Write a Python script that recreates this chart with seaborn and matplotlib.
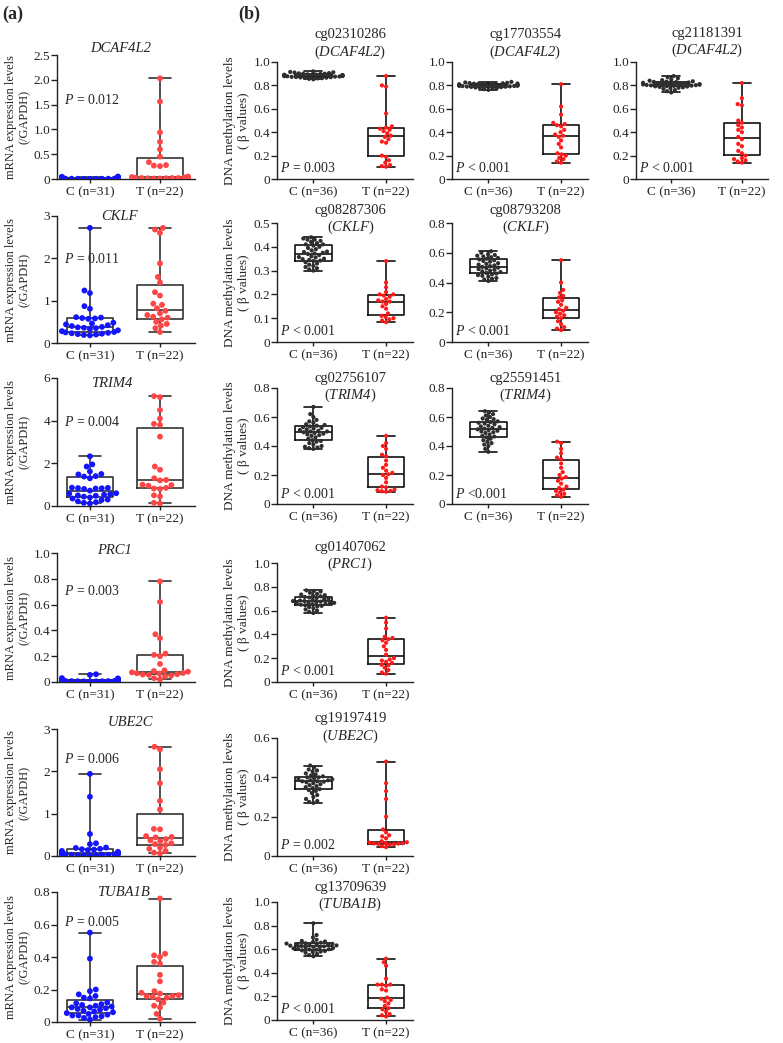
import warnings
import matplotlib
matplotlib.use("Agg")
import matplotlib.pyplot as plt
import pandas as pd
import seaborn as sns

warnings.filterwarnings("ignore")

# ---------------- (a) mRNA expression levels (/GAPDH) ----------------
dcaf4l2_c = [0.05, 0.045, 0.04, 0.035, 0.03, 0.03, 0.025, 0.025, 0.02, 0.02, 0.02, 0.018, 0.016,
             0.015, 0.014, 0.013, 0.012, 0.011, 0.01, 0.01, 0.009, 0.008, 0.008, 0.007, 0.006,
             0.006, 0.005, 0.005, 0.004, 0.003, 0.002]
dcaf4l2_t = [2.03, 1.56, 0.94, 0.75, 0.60, 0.45, 0.34, 0.28, 0.27, 0.26, 0.05, 0.04, 0.03, 0.03,
             0.025, 0.02, 0.02, 0.02, 0.015, 0.015, 0.01, 0.01]
cklf_c = [2.72, 1.24, 1.18, 0.87, 0.81, 0.61, 0.60, 0.59, 0.58, 0.57, 0.48, 0.46, 0.44, 0.42, 0.40,
          0.38, 0.37, 0.36, 0.35, 0.33, 0.30, 0.28, 0.26, 0.25, 0.24, 0.23, 0.22, 0.21, 0.20, 0.19, 0.18]
cklf_t = [2.72, 2.68, 2.60, 1.88, 1.56, 1.43, 1.20, 1.12, 0.93, 0.90, 0.82, 0.76, 0.70, 0.66, 0.62,
          0.60, 0.56, 0.50, 0.45, 0.41, 0.35, 0.26]
trim4_c = [2.33, 1.95, 1.85, 1.62, 1.50, 1.48, 1.40, 1.38, 1.30, 0.86, 0.85, 0.84, 0.83, 0.82, 0.80,
           0.72, 0.60, 0.58, 0.55, 0.53, 0.50, 0.48, 0.44, 0.40, 0.35, 0.30, 0.28, 0.22, 0.18, 0.15, 0.12]
trim4_t = [5.15, 5.10, 4.50, 4.10, 3.85, 3.80, 3.25, 1.85, 1.70, 1.30, 1.22, 1.20, 1.00, 0.98, 0.95,
           0.85, 0.82, 0.80, 0.50, 0.45, 0.15, 0.12]
prc1_c = [0.06, 0.055, 0.03, 0.028, 0.025, 0.022, 0.02, 0.02, 0.018, 0.017, 0.016, 0.015, 0.014,
          0.013, 0.012, 0.012, 0.011, 0.01, 0.01, 0.01, 0.009, 0.009, 0.008, 0.008, 0.007, 0.007,
          0.006, 0.006, 0.005, 0.005, 0.004]
prc1_t = [0.78, 0.62, 0.37, 0.34, 0.22, 0.21, 0.20, 0.14, 0.09, 0.085, 0.08, 0.075, 0.07, 0.068,
          0.065, 0.06, 0.058, 0.055, 0.05, 0.045, 0.03, 0.02]
ube2c_c = [1.94, 1.40, 0.52, 0.30, 0.28, 0.20, 0.19, 0.17, 0.16, 0.15, 0.14, 0.12, 0.10, 0.09, 0.08,
           0.07, 0.06, 0.06, 0.05, 0.05, 0.05, 0.04, 0.04, 0.04, 0.03, 0.03, 0.03, 0.02, 0.02, 0.02, 0.01]
ube2c_t = [2.58, 2.52, 2.05, 1.72, 1.30, 1.10, 0.64, 0.63, 0.47, 0.45, 0.44, 0.40, 0.37, 0.35, 0.30,
           0.28, 0.26, 0.20, 0.17, 0.12, 0.08, 0.06]
tuba1b_c = [0.55, 0.39, 0.20, 0.19, 0.17, 0.16, 0.15, 0.145, 0.12, 0.115, 0.11, 0.105, 0.10, 0.095,
            0.09, 0.09, 0.085, 0.08, 0.075, 0.07, 0.065, 0.06, 0.055, 0.05, 0.045, 0.04, 0.04,
            0.035, 0.03, 0.025, 0.015]
tuba1b_t = [0.76, 0.42, 0.41, 0.40, 0.37, 0.36, 0.29, 0.25, 0.19, 0.18, 0.175, 0.165, 0.16, 0.16,
            0.155, 0.15, 0.14, 0.12, 0.10, 0.09, 0.05, 0.02]

# ---------------- (b) DNA methylation levels (beta values) ----------------
cg02310286_c = [0.92, 0.915, 0.912, 0.91, 0.905, 0.903, 0.90, 0.90, 0.898, 0.895, 0.893, 0.89, 0.89,
                0.888, 0.887, 0.886, 0.885, 0.885, 0.884, 0.883, 0.882, 0.88, 0.879, 0.878, 0.876,
                0.875, 0.873, 0.872, 0.87, 0.868, 0.866, 0.864, 0.862, 0.86, 0.856, 0.852]
cg02310286_t = [0.88, 0.80, 0.79, 0.56, 0.45, 0.44, 0.43, 0.42, 0.41, 0.39, 0.37, 0.36, 0.34, 0.32,
                0.31, 0.20, 0.19, 0.16, 0.14, 0.12, 0.11, 0.105]
cg17703554_c = [0.83, 0.825, 0.822, 0.82, 0.818, 0.816, 0.815, 0.813, 0.812, 0.81, 0.808, 0.806,
                0.805, 0.804, 0.803, 0.802, 0.801, 0.80, 0.80, 0.799, 0.798, 0.797, 0.796, 0.795,
                0.794, 0.792, 0.79, 0.789, 0.787, 0.785, 0.782, 0.78, 0.777, 0.773, 0.768, 0.762]
cg17703554_t = [0.81, 0.62, 0.55, 0.48, 0.47, 0.46, 0.45, 0.42, 0.40, 0.38, 0.37, 0.36, 0.33, 0.30,
                0.27, 0.22, 0.21, 0.20, 0.18, 0.17, 0.15, 0.14]
cg21181391_c = [0.88, 0.87, 0.86, 0.85, 0.845, 0.84, 0.835, 0.832, 0.83, 0.828, 0.825, 0.822, 0.82,
                0.818, 0.815, 0.813, 0.811, 0.81, 0.808, 0.806, 0.804, 0.802, 0.80, 0.798, 0.796,
                0.794, 0.792, 0.79, 0.787, 0.783, 0.78, 0.775, 0.77, 0.76, 0.75, 0.74]
cg21181391_t = [0.82, 0.69, 0.64, 0.63, 0.50, 0.48, 0.46, 0.44, 0.42, 0.40, 0.36, 0.34, 0.30, 0.28,
                0.24, 0.22, 0.20, 0.18, 0.17, 0.16, 0.15, 0.14]
cg08287306_c = [0.44, 0.435, 0.43, 0.43, 0.425, 0.42, 0.415, 0.41, 0.41, 0.405, 0.40, 0.395, 0.39,
                0.385, 0.38, 0.378, 0.375, 0.372, 0.37, 0.365, 0.36, 0.357, 0.355, 0.35, 0.348,
                0.345, 0.342, 0.34, 0.335, 0.33, 0.325, 0.32, 0.315, 0.31, 0.305, 0.30]
cg08287306_t = [0.34, 0.25, 0.23, 0.21, 0.20, 0.20, 0.195, 0.19, 0.18, 0.175, 0.17, 0.17, 0.16, 0.15,
                0.14, 0.12, 0.11, 0.105, 0.10, 0.095, 0.09, 0.083]
cg08793208_c = [0.61, 0.60, 0.59, 0.585, 0.58, 0.575, 0.57, 0.565, 0.56, 0.555, 0.55, 0.545, 0.54,
                0.53, 0.525, 0.52, 0.515, 0.51, 0.505, 0.50, 0.495, 0.49, 0.485, 0.48, 0.475, 0.47,
                0.465, 0.46, 0.455, 0.45, 0.445, 0.44, 0.43, 0.425, 0.42, 0.41]
cg08793208_t = [0.55, 0.40, 0.35, 0.33, 0.31, 0.30, 0.28, 0.27, 0.25, 0.23, 0.22, 0.21, 0.20, 0.19,
                0.18, 0.17, 0.16, 0.14, 0.12, 0.10, 0.09, 0.08]
cg02756107_c = [0.67, 0.62, 0.60, 0.58, 0.57, 0.56, 0.55, 0.545, 0.54, 0.535, 0.53, 0.525, 0.52,
                0.515, 0.51, 0.505, 0.50, 0.50, 0.495, 0.49, 0.485, 0.48, 0.475, 0.47, 0.46, 0.45,
                0.44, 0.435, 0.43, 0.42, 0.41, 0.40, 0.395, 0.39, 0.385, 0.38]
cg02756107_t = [0.47, 0.42, 0.40, 0.38, 0.34, 0.33, 0.30, 0.27, 0.25, 0.23, 0.215, 0.205, 0.20, 0.18,
                0.15, 0.12, 0.115, 0.10, 0.095, 0.09, 0.088, 0.085]
cg25591451_c = [0.64, 0.63, 0.62, 0.61, 0.60, 0.59, 0.585, 0.58, 0.57, 0.565, 0.56, 0.555, 0.55,
                0.54, 0.535, 0.53, 0.525, 0.52, 0.515, 0.51, 0.505, 0.50, 0.495, 0.49, 0.48, 0.47,
                0.465, 0.46, 0.45, 0.44, 0.43, 0.42, 0.41, 0.40, 0.38, 0.36]
cg25591451_t = [0.43, 0.42, 0.38, 0.35, 0.32, 0.31, 0.28, 0.25, 0.22, 0.20, 0.185, 0.175, 0.16, 0.14,
                0.12, 0.11, 0.10, 0.09, 0.08, 0.07, 0.06, 0.05]
cg01407062_c = [0.77, 0.765, 0.76, 0.75, 0.74, 0.735, 0.73, 0.725, 0.72, 0.715, 0.71, 0.705, 0.70,
                0.695, 0.69, 0.685, 0.68, 0.68, 0.675, 0.67, 0.668, 0.665, 0.662, 0.66, 0.657,
                0.654, 0.65, 0.645, 0.64, 0.635, 0.63, 0.62, 0.61, 0.60, 0.59, 0.58]
cg01407062_t = [0.54, 0.50, 0.45, 0.38, 0.37, 0.36, 0.35, 0.33, 0.30, 0.27, 0.23, 0.20, 0.19, 0.18,
                0.17, 0.16, 0.145, 0.14, 0.12, 0.10, 0.08, 0.07]
cg19197419_c = [0.46, 0.45, 0.44, 0.435, 0.43, 0.42, 0.415, 0.41, 0.405, 0.40, 0.40, 0.395, 0.39,
                0.39, 0.385, 0.385, 0.38, 0.38, 0.378, 0.375, 0.37, 0.365, 0.36, 0.355, 0.35, 0.345,
                0.34, 0.335, 0.33, 0.32, 0.31, 0.30, 0.29, 0.28, 0.275, 0.27]
cg19197419_t = [0.48, 0.37, 0.33, 0.29, 0.20, 0.135, 0.12, 0.105, 0.10, 0.09, 0.075, 0.07, 0.068,
                0.066, 0.065, 0.064, 0.063, 0.062, 0.06, 0.058, 0.05, 0.045]
cg13709639_c = [0.82, 0.72, 0.70, 0.68, 0.67, 0.665, 0.66, 0.655, 0.65, 0.648, 0.645, 0.642, 0.64,
                0.638, 0.635, 0.632, 0.63, 0.627, 0.624, 0.62, 0.617, 0.614, 0.61, 0.607, 0.604,
                0.60, 0.598, 0.595, 0.59, 0.585, 0.58, 0.575, 0.57, 0.56, 0.55, 0.54]
cg13709639_t = [0.52, 0.49, 0.46, 0.35, 0.30, 0.30, 0.30, 0.29, 0.26, 0.25, 0.19, 0.18, 0.17, 0.16,
                0.14, 0.12, 0.10, 0.09, 0.07, 0.05, 0.04, 0.03]

mrna_genes = ["DCAF4L2", "CKLF", "TRIM4", "PRC1", "UBE2C", "TUBA1B"]
mrna_c = [dcaf4l2_c, cklf_c, trim4_c, prc1_c, ube2c_c, tuba1b_c]
mrna_t = [dcaf4l2_t, cklf_t, trim4_t, prc1_t, ube2c_t, tuba1b_t]
mrna_p = ["= 0.012", "= 0.011", "= 0.004", "= 0.003", "= 0.006", "= 0.005"]
mrna_ymax = [2.5, 3, 6, 1.0, 3, 0.8]
mrna_step = [0.5, 1, 2, 0.2, 1, 0.2]

# (row, col, probe, gene, C, T, p-text, ymax, step)
meth_panels = [
    (0, 0, "cg02310286", "DCAF4L2", cg02310286_c, cg02310286_t, "= 0.003", 1.0, 0.2),
    (0, 1, "cg17703554", "DCAF4L2", cg17703554_c, cg17703554_t, "< 0.001", 1.0, 0.2),
    (0, 2, "cg21181391", "DCAF4L2", cg21181391_c, cg21181391_t, "< 0.001", 1.0, 0.2),
    (1, 0, "cg08287306", "CKLF", cg08287306_c, cg08287306_t, "< 0.001", 0.5, 0.1),
    (1, 1, "cg08793208", "CKLF", cg08793208_c, cg08793208_t, "< 0.001", 0.8, 0.2),
    (2, 0, "cg02756107", "TRIM4", cg02756107_c, cg02756107_t, "< 0.001", 0.8, 0.2),
    (2, 1, "cg25591451", "TRIM4", cg25591451_c, cg25591451_t, "<0.001", 0.8, 0.2),
    (3, 0, "cg01407062", "PRC1", cg01407062_c, cg01407062_t, "< 0.001", 1.0, 0.2),
    (4, 0, "cg19197419", "UBE2C", cg19197419_c, cg19197419_t, "= 0.002", 0.6, 0.2),
    (5, 0, "cg13709639", "TUBA1B", cg13709639_c, cg13709639_t, "< 0.001", 1.0, 0.2),
]

# ---------------- layout (pixels) ----------------
W, H = 783, 1043
left_x = (57, 195)
left_rows = [(55, 179), (216, 343), (378, 506), (553, 682), (729, 856), (892, 1022)]
right_cols = [(277, 413), (452, 588), (636, 768)]
right_rows = [(62, 179), (223, 342), (388, 504), (563, 682), (738, 856), (902, 1020)]
left_title_y = [1.056, 1.0, 0.96, 1.02, 1.05, 1.0]
left_title_x = [0.46, 0.45, 0.40, 0.42, 0.53, 0.48]
left_p_y = [0.64, 0.66, 0.66, 0.705, 0.76, 0.77]
right_title_y = [1.15, 1.025, 1.0, 1.05, 1.08, 1.04]

sns.set_style("ticks")
plt.rcParams["font.family"] = ["Liberation Serif", "DejaVu Serif"]
plt.rcParams["mathtext.fontset"] = "custom"
plt.rcParams["mathtext.rm"] = "Liberation Serif:italic"
plt.rcParams["mathtext.it"] = "Liberation Serif:italic"

fig = plt.figure(figsize=(W / 100, H / 100), dpi=100)


def make_ax(xs, ys):
    x0, x1 = xs
    top, bottom = ys
    return fig.add_axes([x0 / W, 1 - bottom / H, (x1 - x0) / W, (bottom - top) / H])


def tick_text(v, step):
    if abs(v) < 1e-9:
        return "0"
    return f"{v:.1f}" if step < 1 else f"{v:.0f}"


def draw(ax, c_vals, t_vals, c_lab, colors, box_w, line_c, dot, ymax, step, xlim):
    t_lab = "T (n=22)"
    df = pd.DataFrame({
        "grp": [c_lab] * len(c_vals) + [t_lab] * len(t_vals),
        "val": list(c_vals) + list(t_vals),
    })
    order = [c_lab, t_lab]
    sns.boxplot(data=df, x="grp", y="val", order=order, whis=(0, 100), width=box_w,
                fill=False, color=line_c, linewidth=1.2, showfliers=False, ax=ax)
    sns.swarmplot(data=df, x="grp", y="val", order=order, hue="grp", hue_order=order,
                  palette=colors, size=dot, linewidth=0, legend=False, ax=ax, zorder=3)
    ax.set_xlim(*xlim)
    ax.set_ylim(0, ymax)
    ticks = [i * step for i in range(int(round(ymax / step)) + 1)]
    ax.set_yticks(ticks)
    ax.set_yticklabels([tick_text(v, step) for v in ticks])
    ax.set_xlabel("")
    ax.set_ylabel("")
    sns.despine(ax=ax)
    for s in ("left", "bottom"):
        ax.spines[s].set_linewidth(1.0)
        ax.spines[s].set_color("#222222")
    ax.tick_params(axis="y", labelsize=9.5, length=4, width=1, pad=1, colors="#222222")
    ax.tick_params(axis="x", labelsize=9.5, length=3, width=1, pad=2, colors="#222222")


# (a) mRNA panels
for i, gene in enumerate(mrna_genes):
    ax = make_ax(left_x, left_rows[i])
    draw(ax, mrna_c[i], mrna_t[i], "C (n=31)", ["#1414ff", "#ff4646"], 0.65, "#333333",
         4.2, mrna_ymax[i], mrna_step[i], (-0.47, 1.5))
    ax.text(left_title_x[i], left_title_y[i], gene, transform=ax.transAxes, ha="center",
            va="center", fontsize=10.5, fontstyle="italic")
    ax.text(0.05, left_p_y[i], r"$P$ " + mrna_p[i], transform=ax.transAxes,
            ha="left", va="center", fontsize=10)
    ax.set_ylabel("mRNA expression levels\n(/GAPDH)", fontsize=9, linespacing=1.25)
    ax.yaxis.set_label_coords(-0.19, 0.5)

# (b) methylation panels
for row, col, probe, gene, c_vals, t_vals, ptxt, ymax, step in meth_panels:
    ax = make_ax(right_cols[col], right_rows[row])
    draw(ax, c_vals, t_vals, "C (n=36)", ["#2e2e2e", "#ff1a1a"], 0.5, "#111111",
         3.0, ymax, step, (-0.5, 1.37))
    ty = right_title_y[row] + (0.01 if col == 2 else 0)
    ax.text(0.54, ty, probe + "\n(" + r"$\mathrm{" + gene + "}$" + ")",
            transform=ax.transAxes, ha="center", va="center", fontsize=10.5,
            linespacing=1.15)
    ax.text(0.02, 0.09, r"$P$ " + ptxt, transform=ax.transAxes, ha="left",
            va="center", fontsize=10)
    if col == 0:
        ax.set_ylabel("DNA methylation levels\n( β values)", fontsize=9.5, linespacing=1.25)
        ax.yaxis.set_label_coords(-0.2, 0.5)

fig.text(2 / W, 1 - 14 / H, "(a)", fontsize=13, fontweight="bold", va="center", ha="left")
fig.text(238 / W, 1 - 14 / H, "(b)", fontsize=13, fontweight="bold", va="center", ha="left")

fig.savefig("out.png", dpi=100)
